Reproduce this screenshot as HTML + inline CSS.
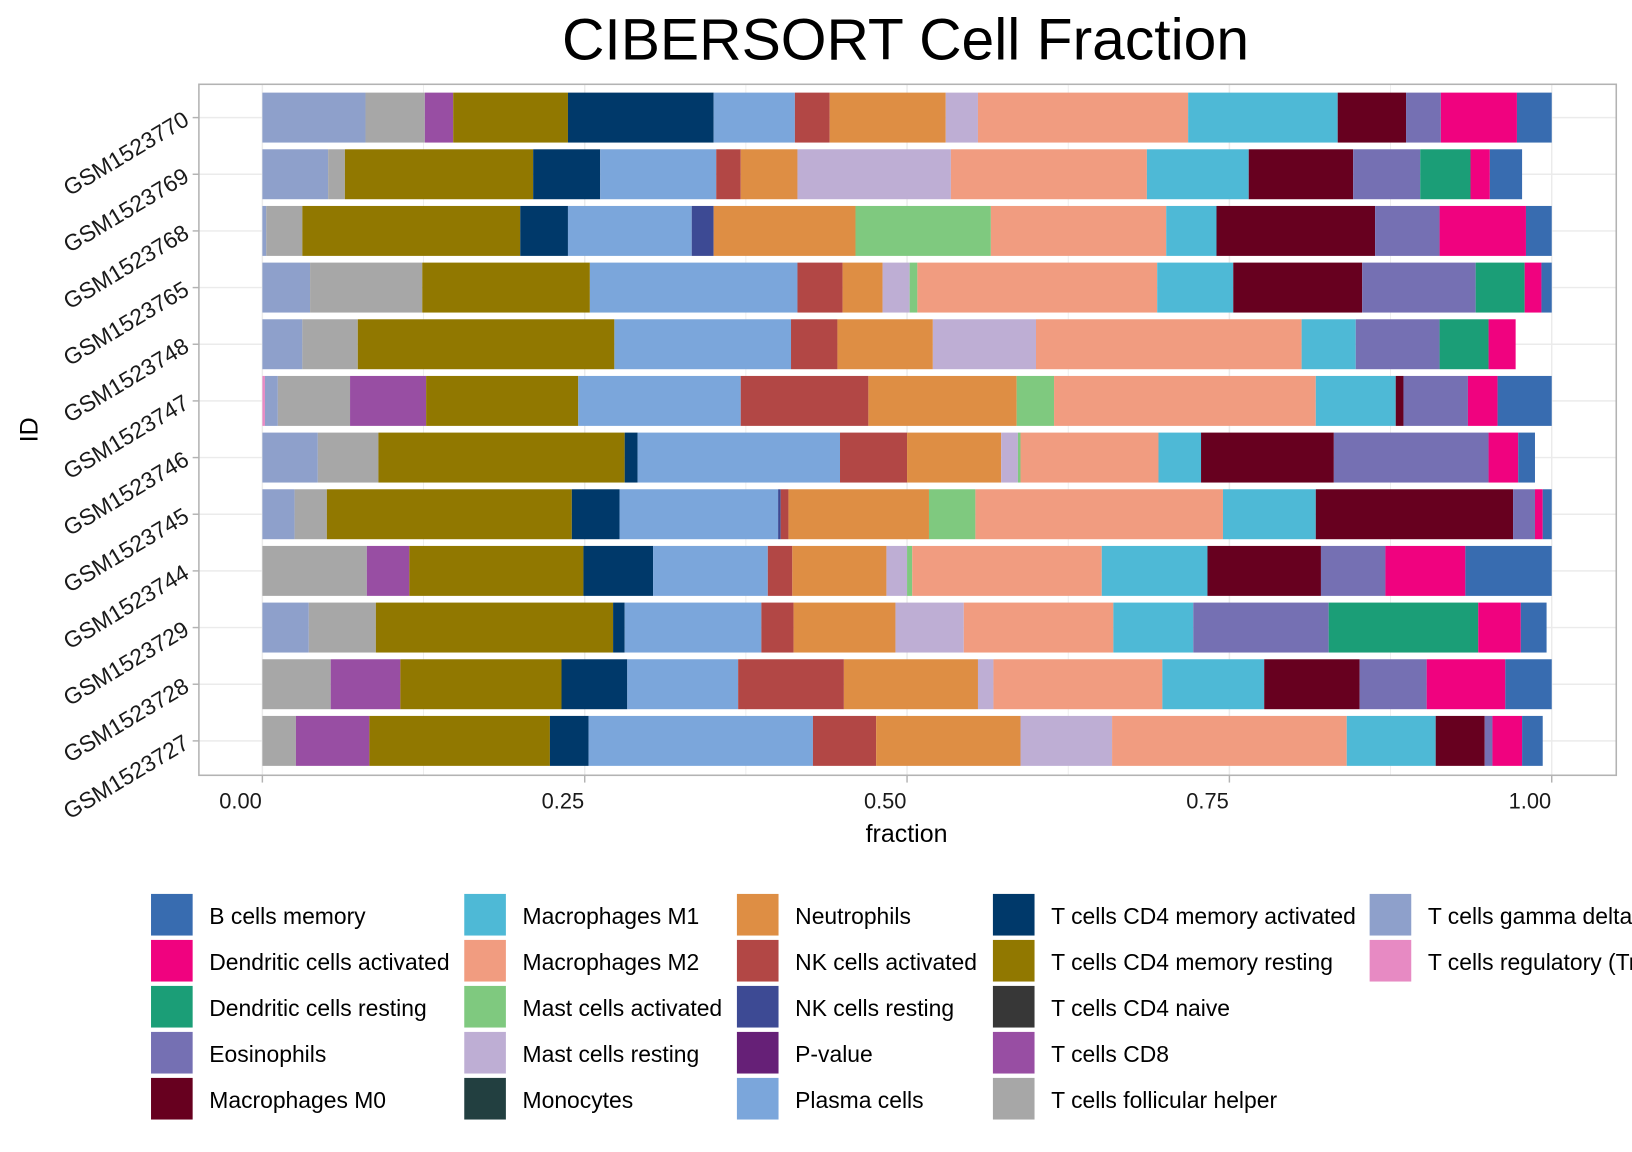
<!DOCTYPE html>
<html><head><meta charset="utf-8"><style>
html,body{margin:0;padding:0;background:#fff;}
svg{display:block;font-family:"Liberation Sans",sans-serif;}
</style></head><body>
<svg id="chart" width="1632" height="1152" viewBox="0 0 1568 1107" xmlns="http://www.w3.org/2000/svg">
<rect width="1568" height="1107" fill="#fff"/>
<text x="870" y="57" font-size="56.5" text-anchor="middle" fill="#000">CIBERSORT Cell Fraction</text>
<g id="grid"></g>
<g id="bars"></g>
<rect x="191" y="81" width="1362" height="664" fill="none" stroke="#b3b3b3" stroke-width="1.5"/>
<g id="axes"></g>
<text x="871" y="809" font-size="24" text-anchor="middle">fraction</text>
<text transform="translate(36,413) rotate(-90)" font-size="24" text-anchor="middle">ID</text>
<g id="legend"></g>
</svg>
<script>
const samples=["GSM1523770","GSM1523769","GSM1523768","GSM1523765","GSM1523748","GSM1523747","GSM1523746","GSM1523745","GSM1523744","GSM1523729","GSM1523728","GSM1523727"];
const xTicks=[0,0.25,0.5,0.75,1];
const xTickLabels=["0.00","0.25","0.50","0.75","1.00"];
const stackOrder=["T cells regulatory (Tregs)","T cells gamma delta","T cells follicular helper","T cells CD8","T cells CD4 naive","T cells CD4 memory resting","T cells CD4 memory activated","Plasma cells","NK cells resting","NK cells activated","Neutrophils","Monocytes","Mast cells resting","Mast cells activated","Macrophages M2","Macrophages M1","Macrophages M0","Eosinophils","Dendritic cells resting","Dendritic cells activated","B cells memory"];
const vTreg=[0,0,0,0,0,.002,0,0,0,0,0,0];
const vGd=[.080,.051,.003,.037,.031,.010,.043,.025,0,.036,0,0];
const vTfh=[.046,.013,.028,.087,.043,.056,.047,.025,.081,.052,.053,.026];
const vCd8=[.022,0,0,0,0,.059,0,0,.033,0,.054,.057];
const vCd4n=[0,0,0,0,0,0,0,0,0,0,0,0];
const vCd4mr=[.089,.146,.169,.130,.199,.118,.191,.190,.135,.184,.125,.140];
const vCd4ma=[.113,.052,.037,0,0,0,.010,.037,.054,.009,.051,.030];
const vPlasma=[.063,.090,.096,.161,.137,.126,.157,.123,.089,.106,.086,.174];
const vNkr=[0,0,.017,0,0,0,0,.002,0,0,0,0];
const vNka=[.027,.019,0,.035,.036,.099,.052,.006,.019,.025,.082,.049];
const vNeut=[.090,.044,.110,.031,.074,.115,.073,.109,.073,.079,.104,.112];
const vMono=[0,0,0,0,0,0,0,0,0,0,0,0];
const vMastr=[.025,.119,0,.021,.080,0,.013,0,.016,.053,.012,.071];
const vMasta=[0,0,.105,.006,0,.029,.002,.036,.004,0,0,0];
const vM2=[.163,.152,.136,.186,.206,.203,.107,.192,.147,.116,.131,.182];
const vM1=[.116,.079,.039,.059,.042,.062,.033,.072,.082,.062,.079,.069];
const vM0=[.053,.081,.123,.100,0,.006,.103,.153,.088,0,.074,.038];
const vEos=[.027,.052,.050,.088,.065,.050,.120,.017,.050,.105,.052,.006];
const vDcr=[0,.039,0,.038,.038,0,0,0,0,.116,0,0];
const vDca=[.059,.015,.067,.013,.021,.023,.023,.006,.062,.033,.061,.023];
const vB=[.027,.025,.020,.008,0,.042,.013,.007,.067,.020,.036,.016];
const seriesVals=[vTreg,vGd,vTfh,vCd8,vCd4n,vCd4mr,vCd4ma,vPlasma,vNkr,vNka,vNeut,vMono,vMastr,vMasta,vM2,vM1,vM0,vEos,vDcr,vDca,vB];
const colors={"B cells memory":"#386cb0","Dendritic cells activated":"#f0027f","Dendritic cells resting":"#1b9e77","Eosinophils":"#7570b3","Macrophages M0":"#67001f","Macrophages M1":"#4eb9d6","Macrophages M2":"#f19c80","Mast cells activated":"#7fc97f","Mast cells resting":"#beaed4","Monocytes":"#223f40","Neutrophils":"#de8e44","NK cells activated":"#b24745","NK cells resting":"#3d4a94","P-value":"#662077","Plasma cells":"#7ba6db","T cells CD4 memory activated":"#00396a","T cells CD4 memory resting":"#917800","T cells CD4 naive":"#373737","T cells CD8":"#984ea3","T cells follicular helper":"#a7a7a7","T cells gamma delta":"#8ea0cb","T cells regulatory (Tregs)":"#e78ac3"};
const legendOrder=["B cells memory","Dendritic cells activated","Dendritic cells resting","Eosinophils","Macrophages M0","Macrophages M1","Macrophages M2","Mast cells activated","Mast cells resting","Monocytes","Neutrophils","NK cells activated","NK cells resting","P-value","Plasma cells","T cells CD4 memory activated","T cells CD4 memory resting","T cells CD4 naive","T cells CD8","T cells follicular helper","T cells gamma delta","T cells regulatory (Tregs)"];

const NS="http://www.w3.org/2000/svg";
const x0=252,x1=1491;
const xs=v=>x0+v*(x1-x0);
const yTop=113,yStep=54.45;
const ys=i=>yTop+i*yStep;
const barH=48;
function mk(t,a,p){const e=document.createElementNS(NS,t);for(const k in a)e.setAttribute(k,a[k]);p.appendChild(e);return e;}
const grid=document.getElementById('grid');
for(let v=0;v<=1.0001;v+=0.125){
 const l=mk('line',{x1:xs(v),x2:xs(v),y1:81,y2:745,stroke:'#ebebeb','stroke-width':v*8%2===0?1.4:0.8},grid);
 
 
}
samples.forEach((s,i)=>{
 const l=mk('line',{x1:191,x2:1553,y1:ys(i),y2:ys(i),stroke:'#ebebeb','stroke-width':1.4},grid);
 
 
});
const bars=document.getElementById('bars');
samples.forEach((s,i)=>{
 let cum=0;
 stackOrder.forEach((c,k)=>{
  const v=seriesVals[k][i];
  if(v>0){
   const r=mk('rect',{x:xs(cum),y:ys(i)-barH/2,width:xs(cum+v)-xs(cum),height:barH,fill:colors[c]},bars);
   
   
  }
  cum+=v;
 });
});
const axes=document.getElementById('axes');
xTicks.forEach((v,i)=>{
 const t=mk('line',{x1:xs(v),x2:xs(v),y1:745,y2:752,stroke:'#b3b3b3','stroke-width':1.4},axes);
 
 
 const tx=mk('text',{x:xs(v)-21,y:777,'font-size':21,'text-anchor':'middle',fill:'#1a1a1a'},axes);
 tx.textContent=xTickLabels[i];
 
 
});
samples.forEach((s,i)=>{
 const t=mk('line',{x1:185,x2:191,y1:ys(i),y2:ys(i),stroke:'#b3b3b3','stroke-width':1.4},axes);
 
 
 const tx=mk('text',{transform:`translate(183,${ys(i)+6}) rotate(-31)`,'font-size':22,'text-anchor':'end',fill:'#1a1a1a'},axes);
 tx.textContent=s;
 
 
});
const leg=document.getElementById('legend');
const colX=[145,446,708,954,1316];
legendOrder.forEach((c,i)=>{
 const col=Math.floor(i/5),row=i%5;
 const x=colX[col],y=859+row*44.2;
 const r=mk('rect',{x:x,y:y,width:40,height:40,fill:colors[c]},leg);
 
 
 const t=mk('text',{x:x+56,y:y+29,'font-size':22,fill:'#000'},leg);
 t.textContent=c;
 
 
});
</script>
</body></html>
